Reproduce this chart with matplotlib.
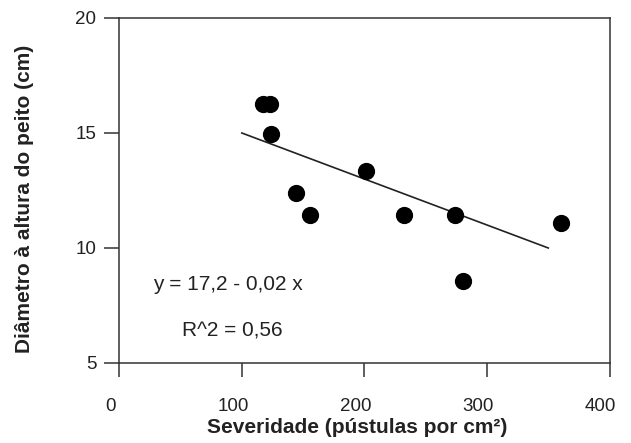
import matplotlib
matplotlib.use("Agg")
import matplotlib.pyplot as plt
import matplotlib.transforms as mtransforms
import numpy as np

plt.rcParams['font.family'] = ['Liberation Sans', 'DejaVu Sans']

# pontos
severidade = [117, 123, 124, 144, 155.5, 201, 232, 274, 280.5, 360]
dap = [16.25, 16.25, 14.95, 12.4, 11.45, 13.35, 11.45, 11.45, 8.55, 11.1]

# reta de ajuste desenhada
fit_x = np.array([100, 350])
intercepto, inclinacao = 17.0, -0.02

fig = plt.figure(figsize=(6.31, 4.43), dpi=100)
ax = fig.add_axes([0.189, 0.1806, 0.777, 0.7788])

ax.scatter(severidade, dap, s=130, color='black', zorder=3)
ax.plot(fit_x, intercepto + inclinacao * fit_x, color='#222222', linewidth=1.2)

ax.text(27.3, 8.43, "y = 17,2 - 0,02 x", fontsize=15, va='center', color='#222222')
ax.text(51, 6.39, "R^2 = 0,56", fontsize=15, va='center', color='#222222')

ax.set_xlim(0, 400)
ax.set_ylim(5, 20)
ax.set_xticks([0, 100, 200, 300, 400])
ax.set_yticks([5, 10, 15, 20])

for s in ax.spines.values():
    s.set_linewidth(1.1)
    s.set_color('#333333')
ax.tick_params(direction='out', width=1.1, color='#333333',
               labelsize=13.5, labelcolor='#222222')
ax.tick_params(axis='x', length=10, pad=15)
ax.tick_params(axis='y', length=11, pad=5.5)

# rótulos do eixo x ligeiramente deslocados à esquerda, como no original
desloc = mtransforms.ScaledTranslation(-0.09, 0, fig.dpi_scale_trans)
for lab in ax.get_xticklabels():
    lab.set_transform(lab.get_transform() + desloc)

ax.set_xlabel("Severidade (pústulas por cm²)", fontsize=15, fontweight='bold',
              color='#222222')
ax.set_ylabel("Diâmetro à altura do peito (cm)", fontsize=15, fontweight='bold',
              color='#222222')
ax.xaxis.set_label_coords(0.485, -0.158)
ax.yaxis.set_label_coords(-0.174, 0.475)

fig.savefig("out.png", dpi=100)
